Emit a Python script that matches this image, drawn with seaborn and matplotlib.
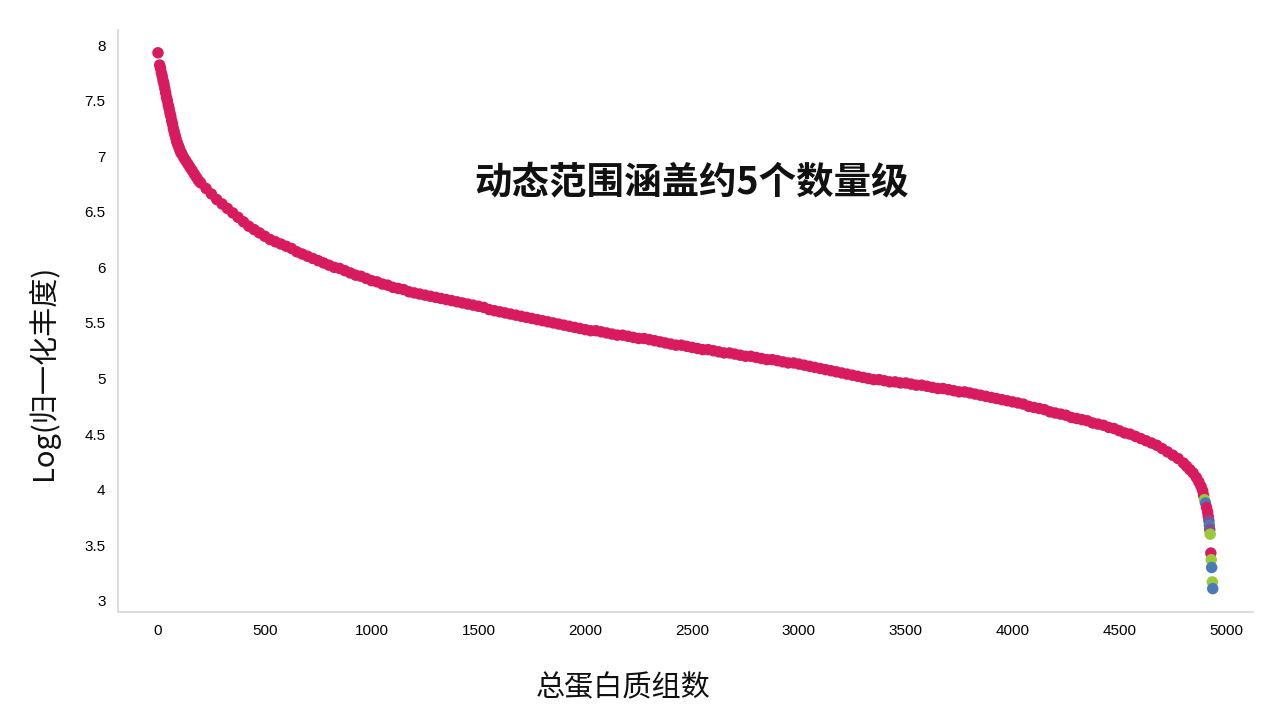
import numpy as np
import pandas as pd
import matplotlib
matplotlib.use("Agg")
import matplotlib.pyplot as plt
import seaborn as sns
from matplotlib.ticker import FuncFormatter, MultipleLocator

# === 数据 ===
# 主曲线: 蛋白按丰度排序后的序号与 log 丰度
rank = [0, 8, 12, 16, 20, 24, 28, 32, 36, 40, 44, 48, 52, 56, 60, 64, 68, 72, 76, 80,
        84, 88, 92, 96, 100, 104, 108, 112, 120, 130, 140, 150, 160, 170, 180, 190, 200,
        225, 250, 275, 300, 325, 350, 375, 400, 425, 450, 475, 500, 525, 550, 575, 600]
log_abund = [7.93, 7.82, 7.79, 7.75, 7.72, 7.68, 7.65, 7.61, 7.57, 7.53, 7.50, 7.46,
             7.43, 7.39, 7.36, 7.32, 7.29, 7.25, 7.22, 7.19, 7.16, 7.13, 7.11, 7.09,
             7.07, 7.05, 7.03, 7.02, 6.99, 6.96, 6.93, 6.90, 6.87, 6.84, 6.81, 6.78,
             6.76, 6.71, 6.66, 6.61, 6.57, 6.53, 6.49, 6.45, 6.41, 6.37, 6.34, 6.31,
             6.28, 6.25, 6.23, 6.21, 6.19]

rank_mid = list(range(625, 4801, 25))
log_abund_mid = [6.17, 6.14, 6.12, 6.10, 6.08, 6.06, 6.04, 6.02, 6.00, 5.99, 5.97, 5.95,
                 5.93, 5.92, 5.90, 5.88, 5.87, 5.85, 5.84, 5.82, 5.81, 5.80, 5.78, 5.77,
                 5.76, 5.75, 5.74, 5.73, 5.72, 5.71, 5.70, 5.69, 5.68, 5.67, 5.66, 5.65,
                 5.64, 5.62, 5.61, 5.60, 5.59, 5.58, 5.57, 5.56, 5.55, 5.54, 5.53, 5.52,
                 5.51, 5.50, 5.49, 5.48, 5.47, 5.46, 5.45, 5.44, 5.43, 5.43, 5.42, 5.41,
                 5.40, 5.39, 5.39, 5.38, 5.37, 5.36, 5.36, 5.35, 5.34, 5.33, 5.32, 5.31,
                 5.30, 5.30, 5.29, 5.28, 5.27, 5.26, 5.26, 5.25, 5.24, 5.23, 5.23, 5.22,
                 5.21, 5.20, 5.20, 5.19, 5.18, 5.17, 5.17, 5.16, 5.15, 5.14, 5.14, 5.13,
                 5.12, 5.11, 5.10, 5.09, 5.08, 5.07, 5.06, 5.05, 5.04, 5.03, 5.02, 5.01,
                 5.00, 4.99, 4.99, 4.98, 4.97, 4.97, 4.96, 4.96, 4.95, 4.94, 4.94, 4.93,
                 4.92, 4.91, 4.91, 4.90, 4.89, 4.88, 4.88, 4.87, 4.86, 4.85, 4.84, 4.83,
                 4.82, 4.81, 4.80, 4.79, 4.78, 4.77, 4.75, 4.74, 4.73, 4.72, 4.70, 4.69,
                 4.68, 4.67, 4.65, 4.64, 4.63, 4.62, 4.60, 4.59, 4.58, 4.56, 4.55, 4.53,
                 4.51, 4.50, 4.48, 4.46, 4.44, 4.42, 4.40, 4.37, 4.34, 4.31, 4.28, 4.24]

# 尾部: 低丰度蛋白, 不同样本颜色
tail_rank = [4815, 4830, 4845, 4860, 4872, 4882, 4890, 4894, 4898, 4903, 4908, 4913,
             4916, 4919, 4921, 4923, 4925, 4928, 4930, 4932, 4935, 4937]
tail_value = [4.21, 4.18, 4.15, 4.11, 4.07, 4.03, 3.99, 3.95, 3.91, 3.88, 3.84, 3.80,
              3.76, 3.72, 3.68, 3.64, 3.60, 3.43, 3.37, 3.30, 3.17, 3.11]
tail_group = ["S1", "S1", "S1", "S1", "S1", "S1", "S1", "S1", "S2", "S3", "S1", "S1",
              "S1", "S4", "S3", "S4", "S2", "S1", "S2", "S3", "S2", "S3"]

palette = {"S1": "#D81B5E", "S2": "#9CC83C", "S3": "#4A7BB7", "S4": "#8A4A90"}

sns.set_style("white")
plt.rcParams['font.family'] = ['Liberation Sans', 'Noto Sans CJK SC', 'DejaVu Sans']
plt.rcParams['axes.unicode_minus'] = False
CJK = ['Noto Sans CJK SC', 'DejaVu Sans']

df = pd.DataFrame({
    "rank": rank + rank_mid + tail_rank,
    "value": log_abund + log_abund_mid + tail_value,
    "group": ["S1"] * (len(rank) + len(rank_mid)) + tail_group,
})

fig = plt.figure(figsize=(12.8, 7.25), dpi=100)
ax = fig.add_axes([0.0922, 0.1559, 0.8868, 0.8027])

sns.scatterplot(data=df, x="rank", y="value", hue="group", palette=palette,
                s=68, linewidth=0, alpha=1, legend=False, ax=ax)

ax.set_xlim(-187, 5126)
ax.set_ylim(2.9, 8.135)
ax.xaxis.set_major_locator(MultipleLocator(500))
ax.yaxis.set_major_locator(MultipleLocator(0.5))
ax.yaxis.set_major_formatter(FuncFormatter(lambda v, p: f"{v:g}"))

sns.despine(ax=ax)
for side in ["left", "bottom"]:
    ax.spines[side].set_color("#D6D6D6")
    ax.spines[side].set_linewidth(1.2)
ax.tick_params(axis="both", which="major", direction="out", length=4, width=1,
               color="#C8C8C8", labelsize=11, labelcolor="black", pad=5)

ax.set_xlabel("总蛋白质组数", fontsize=21, family=CJK, color="#111111")
ax.set_ylabel("Log(归一化丰度)", fontsize=21, family=CJK, color="#111111")
ax.xaxis.set_label_coords(0.445, -0.105)
ax.yaxis.set_label_coords(-0.052, 0.412)

ax.text(0.5055, 0.739, "动态范围涵盖约5个数量级", transform=ax.transAxes,
        ha="center", va="center", fontsize=27, fontweight="bold", family=CJK,
        color="#111111")

plt.savefig("out.png", dpi=100)
plt.close()
